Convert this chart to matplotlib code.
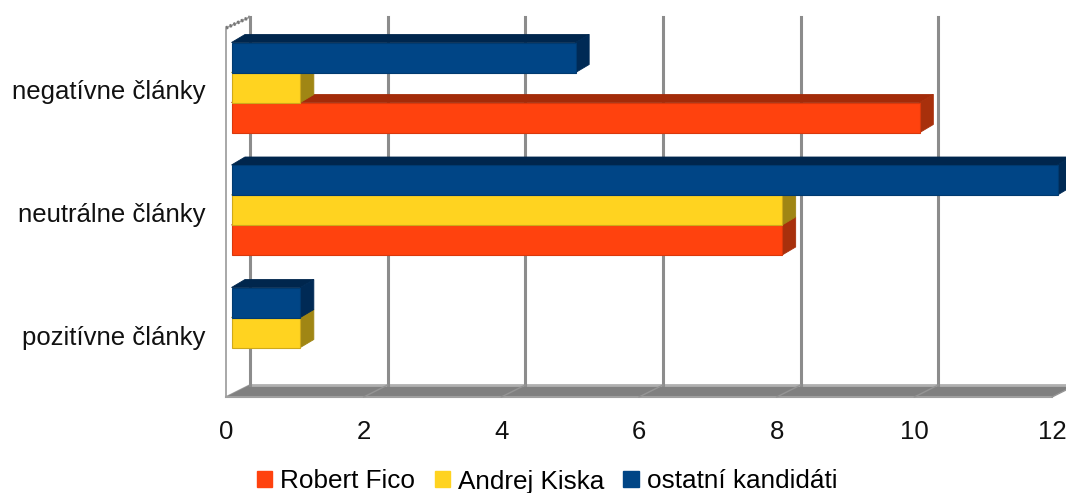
# Stĺpcový graf s 3D vzhľadom - počty článkov podľa kandidátov
import matplotlib
matplotlib.use("Agg")
import matplotlib.pyplot as plt
from matplotlib.patches import Patch, Polygon

# data -----------------------------------
categories = ["pozitívne články", "neutrálne články", "negatívne články"]
robert_fico = [0, 8, 10]
andrej_kiska = [1, 8, 1]
ostatni = [1, 12, 5]
series_names = ["Robert Fico", "Andrej Kiska", "ostatní kandidáti"]
value_ticks = [0, 2, 4, 6, 8, 10, 12]

# farby: predná, vrchná, bočná stena, okraj
colors = [("#ff420e", "#a32b09", "#a8300c", "#d9380c"),
          ("#ffd320", "#a08614", "#a08614", "#cfa91a"),
          ("#004586", "#00264d", "#002a55", "#003a70")]

plt.rcParams["font.family"] = ["Liberation Sans", "DejaVu Sans"]

W, H = 1066, 493
fig = plt.figure(figsize=(W / 100, H / 100), dpi=100)

# os: x=0 je predná hrana steny (226 px), x=12 je 1052 px
L, R, T, B = 226, 1052, 17, 397
ax = fig.add_axes([L / W, 1 - B / H, (R - L) / W, (B - T) / H])
ux = (R - L) / 12    # px na jednotku x
uy = 122.5           # px na kategóriu
y0 = 335             # pixel kategórie 0
ax.set_xlim(0, 12)
ax.set_ylim((y0 - B) / uy, (y0 - T) / uy)
for s in ax.spines.values():
    s.set_visible(False)
ax.set_xticks(value_ticks)
ax.set_yticks(range(len(categories)), categories)
ax.tick_params(length=0, labelsize=18.5, colors="#111111")
ax.tick_params(axis="x", pad=16.5)
ax.tick_params(axis="y", pad=15)

def dx(p):
    return p / ux

def dy(p):
    return p / uy

ybot, ytop = ax.get_ylim()
back_x = dx(24)
back_y = dy(12)

# ľavá stena
ax.add_patch(Polygon([(0, ybot), (back_x, ybot + back_y), (back_x, ytop), (0, ytop - dy(11))],
                     closed=True, fc="white", ec="#9a9a9a", lw=1.2, clip_on=False, zorder=1))
ax.plot([0, back_x], [ytop - dy(11), ytop], color="#777777", lw=2.5, ls=(0, (0.6, 0.6)),
        clip_on=False, zorder=1.1)

# podlaha
ax.add_patch(Polygon([(0, ybot), (back_x, ybot + back_y), (12 + back_x, ybot + back_y), (12, ybot)],
                     closed=True, fc="#808080", ec="none", clip_on=False, zorder=1))
ax.plot([back_x, 12 + back_x], [ybot + back_y] * 2, color="#b0b0b0", lw=2, clip_on=False, zorder=1.2)
ax.plot([0, 12], [ybot, ybot], color="#a0a0a0", lw=1.5, clip_on=False, zorder=1.2)

# mriežka
for v in value_ticks:
    ax.plot([v + back_x, v + back_x], [ybot + back_y, ytop], color="#8c8c8c", lw=2.2,
            clip_on=False, zorder=1.5)
    if v > 0:
        ax.plot([v, v + back_x], [ybot, ybot + back_y], color="#959595", lw=1,
                clip_on=False, zorder=1.5)

# stĺpce ---------------------------------
start = dx(5.5)
h = dy(30)
depth_x, depth_y = dx(13.5), dy(8)
shift = dy(2.5)
offsets = [-h, 0, h]
z = 3
for vals, (front, top, side, edge), off in zip([robert_fico, andrej_kiska, ostatni], colors, offsets):
    for i, v in enumerate(vals):
        if v == 0:
            continue
        yc = i + off + shift
        y1, y2 = yc - h / 2, yc + h / 2
        x2 = start + v
        ax.add_patch(Polygon([(start, y2), (start + depth_x, y2 + depth_y),
                              (x2 + depth_x, y2 + depth_y), (x2, y2)],
                             closed=True, fc=top, ec=top, lw=0.6, clip_on=False, zorder=z))
        ax.add_patch(Polygon([(x2, y1), (x2 + depth_x, y1 + depth_y),
                              (x2 + depth_x, y2 + depth_y), (x2, y2)],
                             closed=True, fc=side, ec=side, lw=0.6, clip_on=False, zorder=z))
        ax.barh(yc, v, height=h, left=start, color=front, edgecolor=edge, linewidth=0.8,
                clip_on=False, zorder=z + 0.1)
    z += 1

# legenda --------------------------------
handles = [Patch(color=c[0], label=n) for c, n in zip(colors, series_names)]
leg = fig.legend(handles=handles, loc="lower left", bbox_to_anchor=(257 / W, -0.5 / H),
                 ncol=3, frameon=False, fontsize=18.8, handlelength=0.58, handleheight=0.58,
                 handletextpad=0.31, columnspacing=0.74, borderpad=0, borderaxespad=0)

fig.savefig("out.png", dpi=100)
